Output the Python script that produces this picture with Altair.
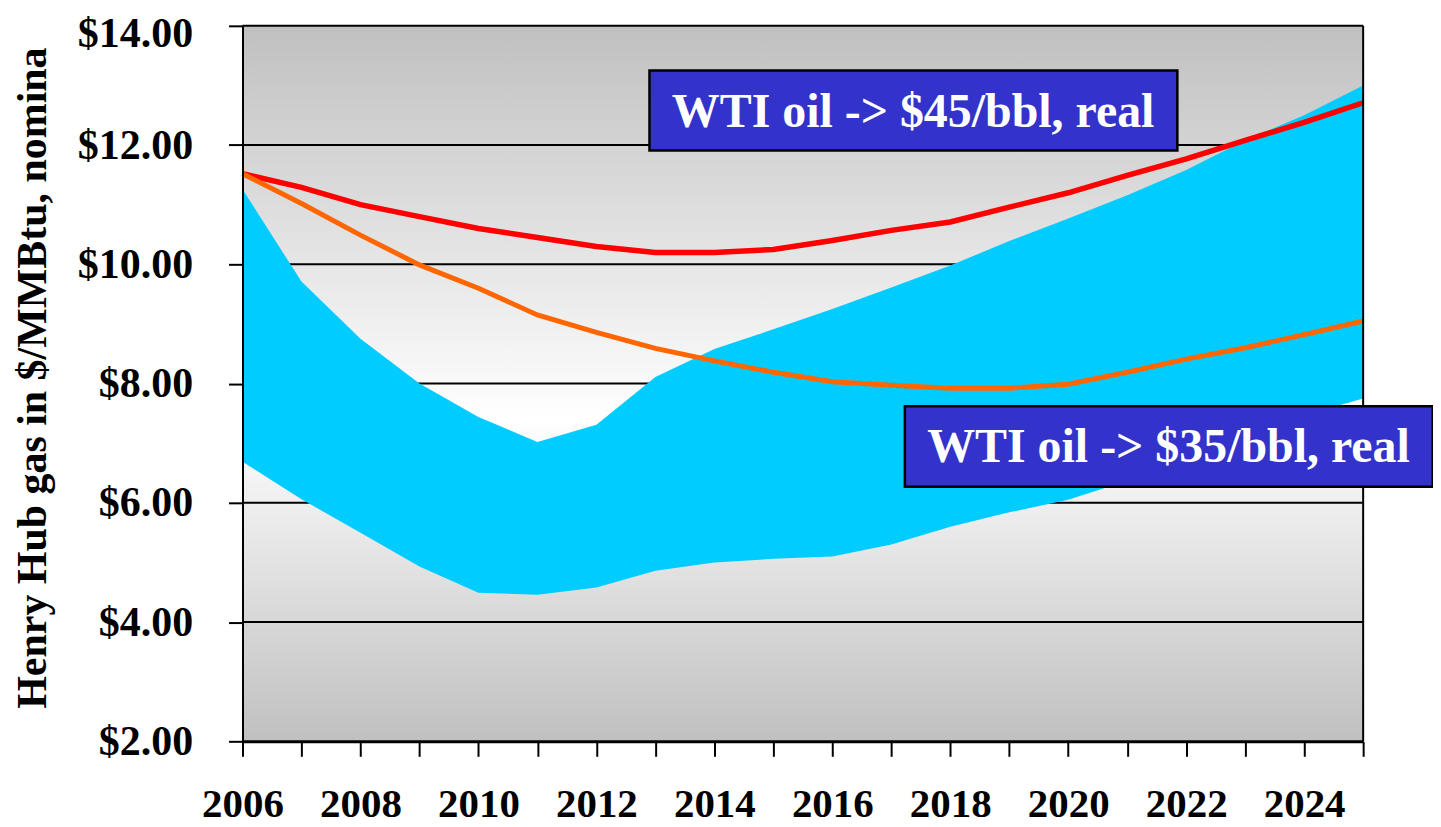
import altair as alt
import pandas as pd

# ---------------- data ----------------
years = list(range(2006, 2026))
band_upper = [11.26, 9.71, 8.75, 8.0, 7.44, 7.02, 7.31, 8.11, 8.58, 8.91,
              9.25, 9.61, 9.98, 10.39, 10.77, 11.16, 11.58, 12.08, 12.5, 13.0]
band_lower = [6.69, 6.06, 5.5, 4.93, 4.49, 4.46, 4.58, 4.86, 5.0, 5.06,
              5.1, 5.3, 5.6, 5.84, 6.05, 6.37, 6.72, 7.1, 7.47, 7.75]
wti45 = [11.52, 11.29, 11.0, 10.8, 10.6, 10.45, 10.3, 10.2, 10.2, 10.25,
         10.4, 10.57, 10.71, 10.96, 11.2, 11.49, 11.77, 12.08, 12.38, 12.71]
wti35 = [11.52, 11.02, 10.49, 9.99, 9.6, 9.15, 8.86, 8.59, 8.38, 8.19,
         8.03, 7.97, 7.92, 7.92, 7.99, 8.19, 8.41, 8.6, 8.82, 9.05]

y_ticks = [2, 4, 6, 8, 10, 12, 14]
x_domain = [2006, 2025]
y_domain = [2, 14]

labels = ["WTI oil -> $45/bbl, real", "WTI oil -> $35/bbl, real"]
label_x = [2017.37, 2021.70]
label_y = [12.53, 6.92]
box_x0 = [2012.90, 2017.23]
box_x1 = [2021.85, 2026.18]
box_y0 = [11.91, 6.27]
box_y1 = [13.25, 7.62]

FONT = "Liberation Serif"

# ---------------- tables ----------------
series_df = pd.DataFrame({"year": years, "upper": band_upper, "lower": band_lower,
                          "wti45": wti45, "wti35": wti35})
bg_df = pd.DataFrame({"year": [x_domain[0]], "x2": [x_domain[1]],
                      "price": [y_domain[0]], "y2": [y_domain[1]]})
grid_df = pd.DataFrame({"price": y_ticks[1:]})
border_df = pd.DataFrame({"year": [x_domain[1]], "price": [y_domain[0]],
                          "y2": [y_domain[1]]})
box_df = pd.DataFrame({"label": labels, "lx": label_x, "ly": label_y,
                       "year": box_x0, "x1": box_x1, "price": box_y0, "y1": box_y1})

xs = alt.Scale(domain=x_domain, nice=False, zero=False)
ys = alt.Scale(domain=y_domain, nice=False, zero=False)

xaxis = alt.Axis(values=years,
                 labelExpr="datum.value % 2 == 0 ? format(datum.value, 'd') : ''",
                 title=None, tickSize=15, tickWidth=2, tickColor="black",
                 domainColor="black", domainWidth=3, grid=False, zindex=1,
                 labelFont=FONT, labelFontWeight="bold", labelFontSize=41,
                 labelColor="black", labelPadding=28, labelFlush=False,
                 labelOverlap=False, labelBaseline="top")
yaxis = alt.Axis(values=y_ticks, format="$.2f",
                 title="Henry Hub gas in $/MMBtu, nomina",
                 titleFont=FONT, titleFontSize=42, titleFontWeight="bold",
                 titleColor="black", titleAngle=270, titleX=-197, titleY=352.5,
                 titleAlign="center", titleBaseline="alphabetic",
                 tickSize=14, tickWidth=2, tickColor="black",
                 domainColor="black", domainWidth=2, grid=False, zindex=1,
                 labelFont=FONT, labelFontWeight="bold", labelFontSize=42,
                 labelColor="black", labelPadding=36, labelOverlap=False,
                 labelOffset={"condition": {"test": "datum.value === 14", "value": 8},
                              "value": 0})


def X(field):
    return alt.X(field, type="quantitative", scale=xs, axis=xaxis, title=None)


def Y(field):
    return alt.Y(field, type="quantitative", scale=ys, axis=yaxis,
                 title="Henry Hub gas in $/MMBtu, nomina")


gradient = alt.LinearGradient(
    gradient="linear",
    stops=[alt.GradientStop(color="#c0c0c0", offset=0),
           alt.GradientStop(color="#ffffff", offset=0.55),
           alt.GradientStop(color="#c0c0c0", offset=1)],
    x1=0, x2=0, y1=0, y2=1)

bg = alt.Chart(bg_df).mark_rect(color=gradient, strokeWidth=0).encode(
    x=X("year"), x2="x2:Q", y=Y("price"), y2="y2:Q")

grid = alt.Chart(grid_df).mark_rule(color="black", strokeWidth=2).encode(
    y=Y("price"))

band = alt.Chart(series_df).mark_area(color="#00CCFF", opacity=1).encode(
    x=X("year"), y=Y("upper"), y2="lower:Q")

line45 = alt.Chart(series_df).mark_line(color="#FF0000", strokeWidth=5.5).encode(
    x=X("year"), y=Y("wti45"))

line35 = alt.Chart(series_df).mark_line(color="#FF6600", strokeWidth=5).encode(
    x=X("year"), y=Y("wti35"))

border = alt.Chart(border_df).mark_rule(color="black", strokeWidth=2).encode(
    x=X("year"), y=Y("price"), y2="y2:Q")

boxes = alt.Chart(box_df).mark_rect(fill="#3333CC", stroke="black",
                                    strokeWidth=2.5).encode(
    x=X("year"), x2="x1:Q", y=Y("price"), y2="y1:Q")

texts = alt.Chart(box_df).mark_text(color="white", font=FONT, fontWeight="bold",
                                    fontSize=48, align="center",
                                    baseline="middle").encode(
    x=X("lx"), y=Y("ly"), text="label:N")

chart = alt.layer(bg, grid, band, line45, line35, border, boxes, texts).properties(
    width=1123, height=717,
    autosize=alt.AutoSizeParams(type="none"),
    padding={"left": 235, "top": 17, "right": 70, "bottom": 86},
).configure_view(strokeWidth=0)

chart.save("out.html", embed_options={"renderer": "svg", "actions": False})
